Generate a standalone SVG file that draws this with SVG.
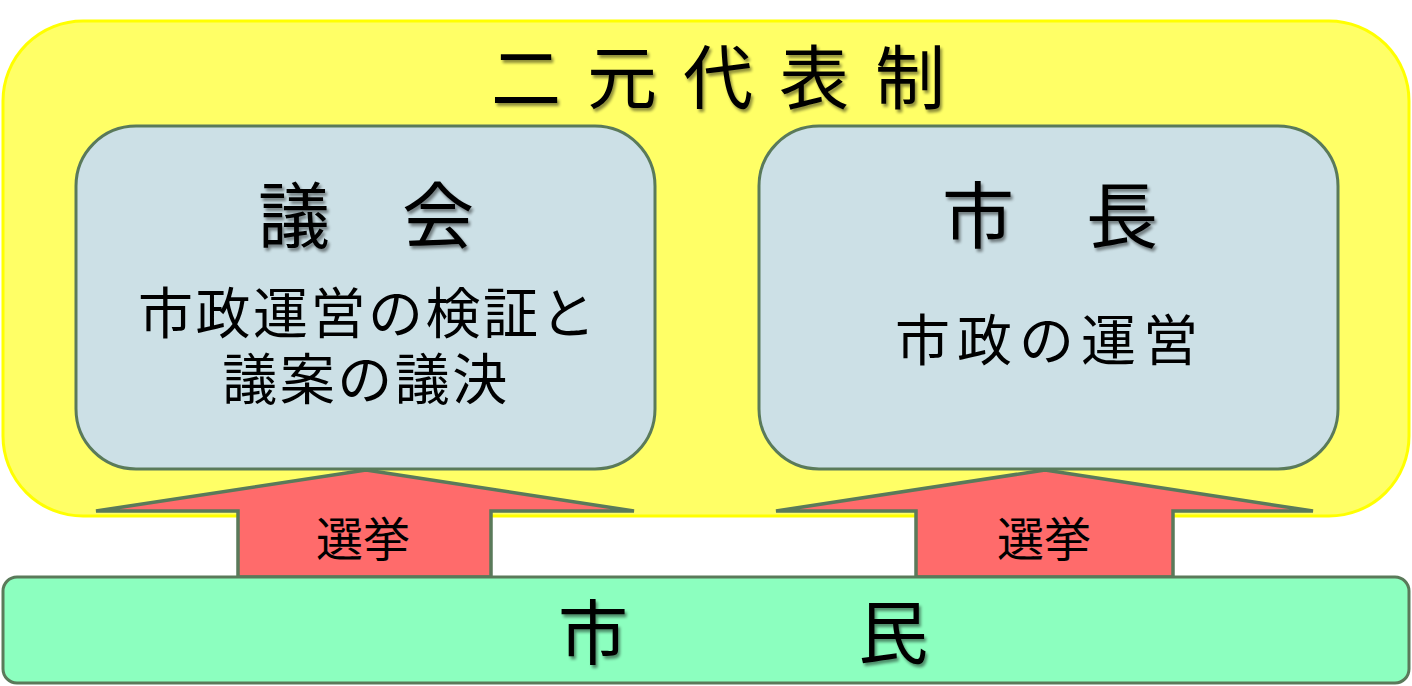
<svg xmlns="http://www.w3.org/2000/svg" width="1412" height="686" viewBox="0 0 1412 686">
<style>
.t{font-family:"Noto Sans CJK JP","Noto Sans CJK SC",sans-serif;fill:#000;text-anchor:middle;}
.sh{filter:url(#ds);}
.node{fill:#CCE0E6;stroke:#5A7A5A;stroke-width:3;}
.arrow{fill:#FF6B6B;stroke:#5A7A5A;stroke-width:3.5;stroke-linejoin:miter;}
</style>
<defs>
<filter id="ds" x="-10%" y="-10%" width="130%" height="130%">
<feGaussianBlur in="SourceAlpha" stdDeviation="1.5"/>
<feOffset dx="2" dy="3" result="o"/>
<feComponentTransfer><feFuncA type="linear" slope="0.45"/></feComponentTransfer>
<feMerge><feMergeNode/><feMergeNode in="SourceGraphic"/></feMerge>
</filter>
</defs>
<rect width="1412" height="686" fill="#FFFFFF"/>
<g id="system">
<rect x="3" y="21" width="1406" height="495" rx="80" ry="80" fill="#FFFF66" stroke="#FFFF00" stroke-width="3"/>
<text class="t sh" x="731" y="104" font-size="70" letter-spacing="26">二元代表制</text>
</g>
<g id="gikai">
<rect class="node" x="76" y="126" width="579" height="343" rx="60" ry="60"/>
<text class="t sh" x="366" y="242" font-size="72">議　会</text>
<text class="t" x="368" y="333" font-size="55" letter-spacing="2.5">市政運営の検証と</text>
<text class="t" x="366" y="399" font-size="55" letter-spacing="2.5">議案の議決</text>
</g>
<g id="shicho">
<rect class="node" x="759" y="126" width="579" height="343" rx="60" ry="60"/>
<text class="t sh" x="1050" y="242" font-size="72">市　長</text>
<text class="t" x="1050" y="360" font-size="55" letter-spacing="7">市政の運営</text>
</g>
<g id="connectors">
<polygon class="arrow" points="366,470 634,511 491,511 491,577 238,577 238,511 96,511"/>
<polygon class="arrow" points="1045,470 1313,511 1173,511 1173,577 916,577 916,511 776,511"/>
<text class="t" x="363" y="556" font-size="47">選挙</text>
<text class="t" x="1044" y="556" font-size="47">選挙</text>
</g>
<g id="shimin">
<rect x="3" y="577" width="1406" height="106" rx="14" ry="14" fill="#8CFFBF" stroke="#5A7A5A" stroke-width="3"/>
<text class="t sh" font-size="70"><tspan x="593" y="659">市</tspan><tspan x="893" y="659">民</tspan></text>
</g>
</svg>
